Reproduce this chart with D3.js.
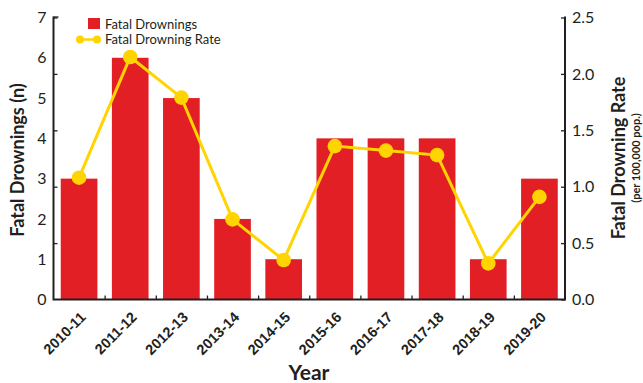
<!DOCTYPE html>
<html><head><meta charset="utf-8">
<script src="https://cdn.jsdelivr.net/npm/d3@7"></script>
<style>
body{margin:0;background:#fff;}
svg{display:block;font-family:Lato,"Open Sans",sans-serif;}
</style></head>
<body><svg id="c" width="643" height="383"></svg>
<script>
const years = ["2010-11","2011-12","2012-13","2013-14","2014-15","2015-16","2016-17","2017-18","2018-19","2019-20"];
const drownings = [3,6,5,2,1,4,4,4,1,3];
const rates = [1.08,2.15,1.79,0.71,0.35,1.36,1.32,1.28,0.32,0.91];
const countTicks = [0,1,2,3,4,5,6,7];
const rateTicks = [0,0.5,1.0,1.5,2.0,2.5];

const svg = d3.select("#c");
const L = 53.5, R = 565, B = 299.5, T = 17.5;
const ink = "#231f20";
const red = "#e31f26", yellow = "#ffd400";

const x = d3.scaleBand().domain(years).range([L, R]).paddingInner(0.283).paddingOuter(0.1415);
const yC = d3.scaleLinear().domain([0,7]).range([B, T]);
const yR = d3.scaleLinear().domain([0,2.5]).range([B, T]);

// bars
svg.append("g").selectAll("rect").data(years).join("rect")
  .attr("x", d => x(d)).attr("width", x.bandwidth())
  .attr("y", (d,i) => yC(drownings[i])).attr("height", (d,i) => B - yC(drownings[i]))
  .attr("fill", red);

// left axis labels
const gl = svg.append("g").attr("transform", `translate(${L},0)`)
  .call(d3.axisLeft(yC).tickValues(countTicks).tickSize(0).tickPadding(7).tickFormat(d3.format("d")));
gl.select(".domain").remove();
gl.selectAll("text").attr("font-size", 16).attr("fill", ink).attr("font-family","Lato");
// left axis inward tick marks (at rate positions, as in original)
const glt = svg.append("g").attr("transform", `translate(${L},0)`)
  .call(d3.axisRight(yR).tickValues(rateTicks.slice(1)).tickSize(4).tickFormat(""));
glt.select(".domain").remove();
glt.selectAll("line").attr("stroke", ink).attr("stroke-width", 1.3);

// right axis
const gr = svg.append("g").attr("transform", `translate(${R},0)`)
  .call(d3.axisLeft(yR).tickValues(rateTicks).tickSize(4).tickFormat(""));
gr.select(".domain").remove();
gr.selectAll("line").attr("stroke", ink).attr("stroke-width", 1.3);
const grl = svg.append("g").attr("transform", `translate(${R},0)`)
  .call(d3.axisRight(yR).tickValues(rateTicks).tickSize(0).tickPadding(7).tickFormat(d3.format(".1f")));
grl.select(".domain").remove();
grl.selectAll("text").attr("font-size", 16).attr("fill", ink).attr("font-family","Lato");

// x axis ticks at category boundaries
const step = x.step();
const boundaries = d3.range(1, years.length).map(i => L + i*step);
const gx = svg.append("g").attr("transform", `translate(0,${B})`)
  .call(d3.axisTop(d3.scaleLinear().domain([L,R]).range([L,R])).tickValues(boundaries).tickSize(4).tickFormat(""));
gx.select(".domain").remove();
gx.selectAll("line").attr("stroke", ink).attr("stroke-width", 1.3);

// x labels
const gxl = svg.append("g").attr("transform", `translate(0,${B})`)
  .call(d3.axisBottom(x).tickSize(0).tickPadding(0));
gxl.select(".domain").remove();
gxl.selectAll("text")
  .attr("font-size", 14.5).attr("fill", ink).attr("font-weight", 700)
  .attr("text-anchor", "end")
  .attr("transform", "translate(4,15) rotate(-45)")
  .attr("dy", "0.35em");

// axis frame lines
svg.append("path").attr("d", `M${L},${T-1}V${B}H${R}V${T-1}`)
  .attr("fill","none").attr("stroke", ink).attr("stroke-width", 2);
svg.append("line").attr("x1",L).attr("x2",L+5).attr("y1",T-0.5).attr("y2",T-0.5).attr("stroke",ink).attr("stroke-width",1.3);

// rate line
const cx = d => x(d) + x.bandwidth()/2;
const line = d3.line().x((d,i) => cx(years[i])).y(d => yR(d));
svg.append("path").datum(rates).attr("d", line)
  .attr("fill","none").attr("stroke", yellow).attr("stroke-width", 3);
svg.append("g").selectAll("circle").data(rates).join("circle")
  .attr("cx", (d,i) => cx(years[i])).attr("cy", d => yR(d)).attr("r", 7.3)
  .attr("fill", yellow);

// legend
const lg = svg.append("g");
lg.append("rect").attr("x", 88).attr("y", 18).attr("width", 12).attr("height", 11).attr("fill", red);
lg.append("line").attr("x1", 79).attr("x2", 98).attr("y1", 39.5).attr("y2", 39.5).attr("stroke", yellow).attr("stroke-width", 2.5);
lg.selectAll("circle").data([80,97]).join("circle").attr("cx", d=>d).attr("cy", 39.5).attr("r", 4).attr("fill", yellow);
lg.append("text").attr("x", 105).attr("y", 28.5).attr("font-size", 13).attr("fill", ink).text("Fatal Drownings");
lg.append("text").attr("x", 105).attr("y", 44).attr("font-size", 13).attr("fill", ink).text("Fatal Drowning Rate");

// titles
svg.append("text").attr("transform", "translate(24,160) rotate(-90)").attr("text-anchor","middle")
  .attr("font-size", 18).attr("font-weight", 700).attr("fill", ink).text("Fatal Drownings (n)");
svg.append("text").attr("transform", "translate(625,158) rotate(-90)").attr("text-anchor","middle")
  .attr("font-size", 18).attr("font-weight", 700).attr("fill", ink).text("Fatal Drowning Rate");
svg.append("text").attr("transform", "translate(640,158) rotate(-90)").attr("text-anchor","middle")
  .attr("font-size", 11).attr("font-weight", 700).attr("fill", ink).text("(per 100,000 pop.)");
svg.append("text").attr("x", 309).attr("y", 380).attr("text-anchor","middle")
  .attr("font-size", 21).attr("font-weight", 700).attr("fill", ink).text("Year");
</script></body></html>
